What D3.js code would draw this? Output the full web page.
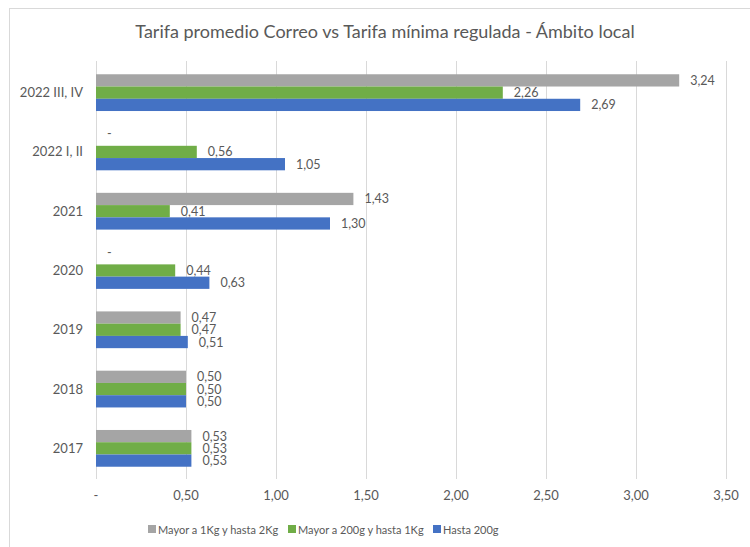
<!DOCTYPE html>
<html>
<head>
<meta charset="utf-8">
<script src="https://cdn.jsdelivr.net/npm/d3@7"></script>
<style>
  body { margin: 0; background: #fff; }
  text { font-family: Lato, "Liberation Sans", sans-serif; fill: #595959; }
</style>
</head>
<body>
<svg width="750" height="547"></svg>
<script>
var categories = ["2022 III, IV", "2022 I, II", "2021", "2020", "2019", "2018", "2017"];
var seriesNames = ["Mayor a 1Kg y hasta 2Kg", "Mayor a 200g y hasta 1Kg", "Hasta 200g"];
var gray = [3.24, 0, 1.43, 0, 0.47, 0.50, 0.53];
var green = [2.26, 0.56, 0.41, 0.44, 0.47, 0.50, 0.53];
var blue = [2.69, 1.05, 1.30, 0.63, 0.51, 0.50, 0.53];
var colors = ["#A5A5A5", "#70AD47", "#4472C4"];
var xTicks = [0, 0.5, 1, 1.5, 2, 2.5, 3, 3.5];

var series = [gray, green, blue];

function fmt(v) {
  if (v === 0) return "-";
  return v.toFixed(2).replace(".", ",");
}

var svg = d3.select("svg");

// chart border
svg.append("rect")
  .attr("x", 9.5).attr("y", 8.5)
  .attr("width", 800).attr("height", 600)
  .attr("fill", "none")
  .attr("stroke", "#D9D9D9");

svg.append("text")
  .attr("x", 385).attr("y", 38)
  .attr("text-anchor", "middle")
  .style("font-size", "18px")
  .text("Tarifa promedio Correo vs Tarifa mínima regulada - Ámbito local");

var x = d3.scaleLinear().domain([0, 3.5]).range([96, 726]);
var y = d3.scaleBand().domain(categories).range([63, 478]).paddingInner(0.38).paddingOuter(0.19);
var sub = d3.scaleBand().domain([0, 1, 2]).range([0, y.bandwidth()]);

// gridlines
svg.append("g")
  .selectAll("line")
  .data(xTicks)
  .enter()
  .append("line")
  .attr("x1", function (d) { return Math.round(x(d)) + 0.5; })
  .attr("x2", function (d) { return Math.round(x(d)) + 0.5; })
  .attr("y1", 61).attr("y2", 479)
  .attr("stroke", "#D9D9D9");

// x tick labels
svg.append("g")
  .selectAll("text")
  .data(xTicks)
  .enter()
  .append("text")
  .attr("x", function (d) { return x(d); })
  .attr("y", 500)
  .attr("text-anchor", "middle")
  .style("font-size", "13px")
  .text(fmt);

// category labels
svg.append("g")
  .selectAll("text")
  .data(categories)
  .enter()
  .append("text")
  .attr("x", 83)
  .attr("y", function (d) { return y(d) + y.bandwidth() / 2 + 4.5; })
  .attr("text-anchor", "end")
  .style("font-size", "13px")
  .text(function (d) { return d; });

// bars + labels
series.forEach(function (vals, s) {
  var g = svg.append("g");
  g.selectAll("rect")
    .data(vals)
    .enter()
    .append("rect")
    .attr("x", x(0))
    .attr("y", function (d, i) { return y(categories[i]) + sub(s); })
    .attr("width", function (d) { return x(d) - x(0); })
    .attr("height", sub.bandwidth())
    .attr("fill", colors[s]);
  g.selectAll("text")
    .data(vals)
    .enter()
    .append("text")
    .attr("x", function (d) { return x(d) + 11; })
    .attr("y", function (d, i) {
      var yy = y(categories[i]) + sub(s) + sub.bandwidth() / 2 + 4.5;
      return d === 0 ? yy - 6 : yy;
    })
    .style("font-size", "12.5px")
    .text(fmt);
});

// legend
var legendX = [148, 288, 433];
var lg = svg.append("g");
seriesNames.forEach(function (name, s) {
  lg.append("rect")
    .attr("x", legendX[s]).attr("y", 525)
    .attr("width", 8).attr("height", 8)
    .attr("fill", colors[s]);
  lg.append("text")
    .attr("x", legendX[s] + 10).attr("y", 533.5)
    .style("font-size", "11px")
    .text(name);
});
</script>
</body>
</html>
